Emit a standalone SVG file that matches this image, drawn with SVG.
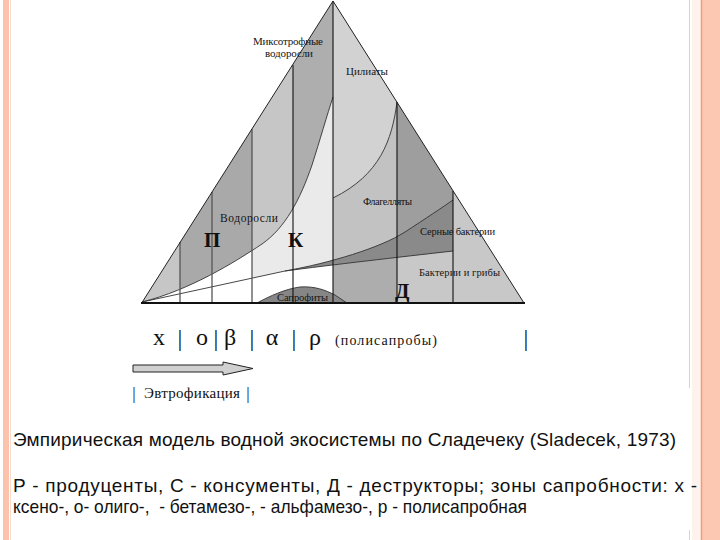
<svg xmlns="http://www.w3.org/2000/svg" width="720" height="540" viewBox="0 0 720 540">
<defs>
<style>
.lbl{font-family:"Liberation Serif","Times New Roman",serif;fill:#151515}
.big{font-family:"Liberation Serif","Times New Roman",serif;font-weight:bold;fill:#111}
.zone{font-family:"Liberation Serif","Times New Roman",serif;fill:#111}
.cap{font-family:"Liberation Sans",Arial,sans-serif;fill:#111;font-size:19px}
.edge{fill:none;stroke:#222;stroke-width:1}
.cur{fill:none;stroke:#333;stroke-width:0.9}
.vg{stroke:#555;stroke-width:1.3}
.vb{stroke:#111;stroke-width:1.1}
</style>
<clipPath id="tri"><polygon points="142,302.5 333,1 524,303"/></clipPath>
<clipPath id="algae"><path d="M142,302 L333,1 L333,97 C327,115 320,140 312,165 C300,200 285,228 262,244 C235,262 190,290 142,302 Z"/></clipPath>
<clipPath id="below"><path d="M142,302 L285,271 C330,265 400,257 453,251 L530,251 L530,310 L142,310 Z"/></clipPath>
</defs>
<rect width="720" height="540" fill="#fff"/>
<g id="border">
<rect x="3" y="0" width="6" height="540" fill="#fbc3ab"/>
<line x1="10.5" y1="0" x2="10.5" y2="540" stroke="#f6dccf" stroke-width="1"/>
<rect x="692" y="0" width="9" height="540" fill="#fdf3ec"/>
<rect x="702" y="0" width="18" height="540" fill="#fdc8b1"/>
<line x1="701.5" y1="0" x2="701.5" y2="540" stroke="#f29c7b" stroke-width="1.5"/>
<line x1="689.5" y1="0" x2="689.5" y2="388" stroke="#efccbc" stroke-width="1"/>
<line x1="689.5" y1="530" x2="689.5" y2="540" stroke="#efccbc" stroke-width="1"/>
</g>
<g id="triangle">
<g clip-path="url(#tri)">
<rect x="252" y="0" width="81" height="310" fill="#eaeaea"/>
<rect x="333" y="0" width="64" height="310" fill="#c2c2c2"/>
<rect x="397" y="0" width="56" height="310" fill="#9e9e9e"/>
<rect x="453" y="0" width="75" height="310" fill="#c8c8c8"/>
<g clip-path="url(#below)">
<rect x="140" y="240" width="193" height="70" fill="#ffffff"/>
<rect x="333" y="240" width="64" height="70" fill="#adadad"/>
<rect x="397" y="240" width="56" height="70" fill="#c8c8c8"/>
</g>
<path d="M285,271 C330,263 380,248 405,232 C425,219 443,207 453,200 L453,251 C400,257 330,265 285,271 Z" fill="#8a8a8a"/>
<g clip-path="url(#algae)">
<rect x="140" y="0" width="40" height="310" fill="#c6c6c6"/>
<rect x="180" y="0" width="72" height="310" fill="#a9a9a9"/>
<rect x="252" y="0" width="41" height="310" fill="#c6c6c6"/>
<rect x="293" y="0" width="40" height="310" fill="#aeaeae"/>
</g>
<path d="M333,1 L397,102 C392,140 380,175 333,198 Z" fill="#d2d2d2"/>
<path d="M257,303 C270,296 285,289 300,287 C315,286 325,290 335,295 L347,303 Z" fill="#868686"/>
</g>
</g>
<g id="connectors">
<path class="cur" d="M142,302 C190,290 235,262 262,244 C285,228 300,200 312,165 C320,140 327,115 333,97"/>
<path class="cur" d="M397,102 C392,140 380,175 333,198"/>
<path class="cur" d="M142,302 L285,271 C330,265 400,257 453,251"/>
<path class="cur" d="M285,271 C330,263 380,248 405,232 C425,219 443,207 453,200"/>
<path class="cur" d="M257,303 C270,296 285,289 300,287 C315,286 325,290 335,295 L347,303"/>
<line class="vg" x1="180" y1="242" x2="180" y2="303"/>
<line class="vg" x1="212" y1="192" x2="212" y2="303"/>
<line class="vg" x1="252" y1="129" x2="252" y2="303"/>
<line class="vb" x1="293" y1="65" x2="293" y2="303"/>
<line class="vb" x1="333" y1="1" x2="333" y2="303"/>
<line class="vb" x1="397" y1="102" x2="397" y2="303"/>
<line class="vb" x1="453" y1="191" x2="453" y2="303"/>
<polyline class="edge" points="142,302.5 333,1 524,303"/>
<line x1="141" y1="303" x2="525" y2="303" stroke="#111" stroke-width="1.8"/>
</g>
<g id="labels">
<text class="lbl" x="253" y="45" font-size="11" textLength="70">Миксотрофные</text>
<text class="lbl" x="265" y="57" font-size="11" textLength="48">водоросли</text>
<text class="lbl" x="346" y="75" font-size="11" textLength="42">Цилиаты</text>
<text class="lbl" x="220" y="222" font-size="11.5" textLength="58">Водоросли</text>
<text class="big" x="204" y="247" font-size="21">П</text>
<text class="big" x="288" y="247" font-size="21">К</text>
<text class="lbl" x="363" y="205" font-size="10.5" textLength="49">Флагелляты</text>
<text class="lbl" x="420" y="235" font-size="10.5" textLength="75">Серные бактерии</text>
<text class="lbl" x="419" y="276" font-size="10.5" textLength="81">Бактерии и грибы</text>
<text class="big" x="395" y="298" font-size="21">Д</text>
<text class="lbl" x="277" y="301" font-size="10.5" textLength="51">Сапрофиты</text>
</g>
<g id="scale">
<text class="zone" x="159" y="345" font-size="24" text-anchor="middle">x</text>
<text class="zone" x="180" y="346" font-size="24" text-anchor="middle">|</text>
<text class="zone" x="202" y="345" font-size="24" text-anchor="middle">o</text>
<text class="zone" x="216" y="346" font-size="24" text-anchor="middle">|</text>
<text class="zone" x="230" y="345" font-size="24" text-anchor="middle">β</text>
<text class="zone" x="252" y="346" font-size="24" text-anchor="middle">|</text>
<text class="zone" x="272" y="345" font-size="24" text-anchor="middle">α</text>
<text class="zone" x="294" y="346" font-size="24" text-anchor="middle">|</text>
<text class="zone" x="315" y="345" font-size="24" text-anchor="middle">ρ</text>
<text class="zone" x="335" y="345" font-size="14" textLength="102">(полисапробы)</text>
<text class="zone" x="526" y="346" font-size="24" text-anchor="middle">|</text>
<path d="M133,365 L223,365 L223,362 L253,368.5 L223,375 L223,372 L133,372 Z" fill="#d0d0d0" stroke="#222" stroke-width="1"/>
<text class="zone" x="134" y="399" font-size="17" text-anchor="middle">|</text>
<text class="zone" x="144" y="398" font-size="15" textLength="96">Эвтрофикация</text>
<text class="zone" x="248" y="399" font-size="17" text-anchor="middle">|</text>
</g>
<g id="caption">
<text class="cap" x="13" y="446" textLength="663">Эмпирическая модель водной экосистемы по Сладечеку (Sladecek, 1973)</text>
<text class="cap" x="13" y="492" textLength="684">Р - продуценты, С - консументы, Д - деструкторы; зоны сапробности: х -</text>
<text class="cap" x="13" y="513" textLength="514" lengthAdjust="spacingAndGlyphs" xml:space="preserve">ксено-, о- олиго-,  - бетамезо-, - альфамезо-, р - полисапробная</text>
</g>
</svg>
